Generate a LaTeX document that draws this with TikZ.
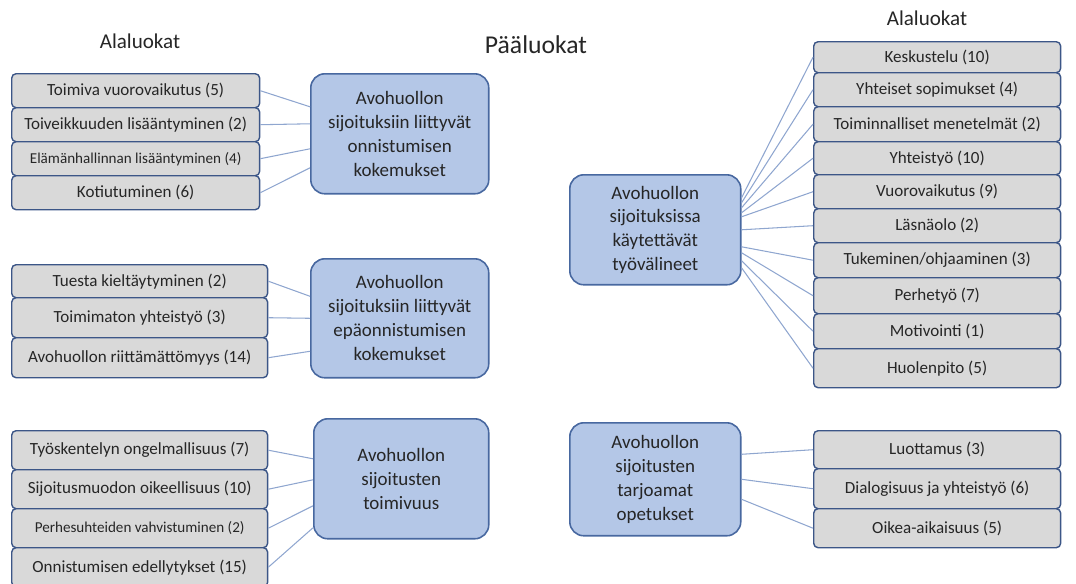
\documentclass[tikz,border=0pt]{standalone}
\usepackage{fontspec}
\setmainfont{Carlito}
\usetikzlibrary{calc}
\definecolor{paafill}{RGB}{180,199,231}
\definecolor{paaline}{RGB}{72,104,160}
\definecolor{alafill}{RGB}{217,217,217}
\definecolor{alaline}{RGB}{60,86,135}
\definecolor{linkline}{RGB}{143,166,207}
\definecolor{teksti}{RGB}{38,38,38}
\tikzset{
  paa/.style={draw=paaline, fill=paafill, line width=0.9pt, rounded corners=8pt,
    align=center, text=teksti, inner sep=0pt, anchor=north west,
    font=\fontsize{10.8}{13.6}\selectfont},
  ala/.style={draw=alaline, fill=alafill, line width=0.8pt, rounded corners=2.5pt,
    text=teksti, inner sep=0pt, anchor=north west, minimum height=0.68cm,
    font=\fontsize{9.7}{11.6}\selectfont},
  vasen1/.style={ala, minimum width=4.96cm},
  vasen/.style={ala, minimum width=5.12cm},
  oikea/.style={ala, minimum width=4.94cm},
  pieni/.style={font=\fontsize{8.6}{10}\selectfont},
  linkki/.style={draw=linkline, line width=0.6pt},
  otsikko/.style={text=teksti, font=\fontsize{12}{14}\selectfont}
}

\begin{document}
\begin{tikzpicture}[x=0.02cm, y=-0.02cm]
    \useasboundingbox (0,0) rectangle (1076,583);
    \clip (0,0) rectangle (1076,583);

    % otsikot
    \node[otsikko] (ala1) at (140,41) {Alaluokat};
    \node[otsikko, font=\fontsize{14.6}{17}\selectfont] (paa) at (536,45) {Pääluokat};
    \node[otsikko] (ala2) at (927,18) {Alaluokat};

    % onnistumisen kokemukset
    \node[paa, minimum width=3.56cm, minimum height=2.4cm] (m1) at (310,73)
        {Avohuollon\\sijoituksiin liittyvät\\onnistumisen\\kokemukset};
    \node[vasen1] (a1) at (11,73) {Toimiva vuorovaikutus (5)};
    \node[vasen1] (a2) at (11,107) {Toiveikkuuden lisääntyminen (2)};
    \node[vasen1, pieni] (a3) at (11,141) {Elämänhallinnan lisääntyminen (4)};
    \node[vasen1] (a4) at (11,175) {Kotiutuminen (6)};
    \draw[linkki] (a1.east) -- ($(m1.west)+(0,-27)$);
    \draw[linkki] (a2.east) -- ($(m1.west)+(0,-10)$);
    \draw[linkki] (a3.east) -- ($(m1.west)+(0,15)$);
    \draw[linkki] (a4.east) -- ($(m1.west)+(0,34)$);

    % epäonnistumisen kokemukset
    \node[paa, minimum width=3.56cm, minimum height=2.38cm] (m2) at (310,258)
        {Avohuollon\\sijoituksiin liittyvät\\epäonnistumisen\\kokemukset};
    \node[vasen, minimum height=0.66cm] (b1) at (11,264) {Tuesta kieltäytyminen (2)};
    \node[vasen, minimum height=0.8cm] (b2) at (11,297) {Toimimaton yhteistyö (3)};
    \node[vasen, minimum height=0.8cm] (b3) at (11,337) {Avohuollon riittämättömyys (14)};
    \draw[linkki] (b1.east) -- ($(m2.west)+(0,-22)$);
    \draw[linkki] (b2.east) -- (m2.west);
    \draw[linkki] (b3.east) -- ($(m2.west)+(0,33)$);

    % toimivuus
    \node[paa, minimum width=3.5cm, minimum height=2.4cm] (m3) at (313,418)
        {Avohuollon\\sijoitusten\\toimivuus};
    \node[vasen, minimum height=0.78cm] (c1) at (11,430) {Työskentelyn ongelmallisuus (7)};
    \node[vasen, minimum height=0.78cm] (c2) at (11,469) {Sijoitusmuodon oikeellisuus (10)};
    \node[vasen, pieni, minimum height=0.78cm] (c3) at (11,508) {Perhesuhteiden vahvistuminen (2)};
    \node[vasen, minimum height=0.78cm] (c4) at (11,547) {Onnistumisen edellytykset (15)};
    \draw[linkki] (c1.east) -- ($(m3.west)+(0,-20)$);
    \draw[linkki] (c2.east) -- ($(m3.west)+(0,1)$);
    \draw[linkki] (c3.east) -- ($(m3.west)+(0,27)$);
    \draw[linkki] (c4.east) -- ($(m3.west)+(0,49)$);

    % työvälineet
    \node[paa, minimum width=3.42cm, minimum height=2.2cm] (m4) at (569,174)
        {Avohuollon\\sijoituksissa\\käytettävät\\työvälineet};
    \node[oikea, minimum height=0.62cm] (d1) at (813,41) {Keskustelu (10)};
    \node[oikea] (d2) at (813,72) {Yhteiset sopimukset (4)};
    \node[oikea, minimum height=0.7cm] (d3) at (813,106) {Toiminnalliset menetelmät (2)};
    \node[oikea, minimum height=0.66cm] (d4) at (813,141) {Yhteistyö (10)};
    \node[oikea] (d5) at (813,174) {Vuorovaikutus (9)};
    \node[oikea] (d6) at (813,208) {Läsnäolo (2)};
    \node[oikea, minimum height=0.7cm] (d7) at (813,242) {Tukeminen/ohjaaminen (3)};
    \node[oikea, minimum height=0.72cm] (d8) at (813,277) {Perhetyö (7)};
    \node[oikea, minimum height=0.7cm] (d9) at (813,313) {Motivointi (1)};
    \node[oikea, minimum height=0.78cm] (d10) at (813,348) {Huolenpito (5)};
    \draw[linkki] ($(m4.east)+(0,-32)$) -- (d1.west);
    \draw[linkki] ($(m4.east)+(0,-27)$) -- (d2.west);
    \draw[linkki] ($(m4.east)+(0,-22)$) -- (d3.west);
    \draw[linkki] ($(m4.east)+(0,-17)$) -- (d4.west);
    \draw[linkki] ($(m4.east)+(0,-13)$) -- (d5.west);
    \draw[linkki] (m4.east) -- (d6.west);
    \draw[linkki] ($(m4.east)+(0,17)$) -- (d7.west);
    \draw[linkki] ($(m4.east)+(0,23)$) -- (d8.west);
    \draw[linkki] ($(m4.east)+(0,31)$) -- (d9.west);
    \draw[linkki] ($(m4.east)+(0,38)$) -- (d10.west);

    % opetukset
    \node[paa, minimum width=3.42cm, minimum height=2.26cm] (m5) at (569,422)
        {Avohuollon\\sijoitusten\\tarjoamat\\opetukset};
    \node[oikea, minimum height=0.76cm] (e1) at (813,430) {Luottamus (3)};
    \node[oikea, minimum height=0.8cm] (e2) at (813,468) {Dialogisuus ja yhteistyö (6)};
    \node[oikea, minimum height=0.78cm] (e3) at (813,508) {Oikea-aikaisuus (5)};
    \draw[linkki] ($(m5.east)+(0,-25)$) -- (e1.west);
    \draw[linkki] (m5.east) -- (e2.west);
    \draw[linkki] ($(m5.east)+(0,20)$) -- (e3.west);
\end{tikzpicture}
\end{document}
